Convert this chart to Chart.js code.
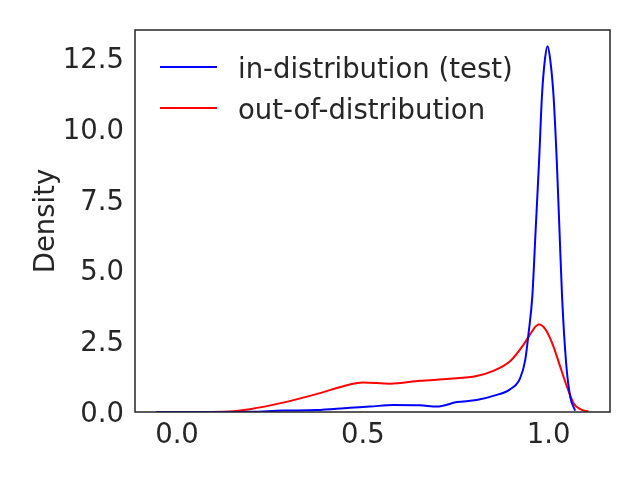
<!DOCTYPE html>
<html>
<head>
<meta charset="utf-8">
<script src="https://cdn.jsdelivr.net/npm/chart.js@4/dist/chart.umd.min.js"></script>
<style>
  html, body { margin: 0; padding: 0; background: #fff; }
  #wrap { width: 640px; height: 480px; }
</style>
</head>
<body>
<div id="wrap"><canvas id="kde" width="640" height="480"></canvas></div>
<script>
// density curves
var xTest = [-0.056, 0.10, 0.20, 0.285, 0.375, 0.465, 0.519, 0.582, 0.654, 0.699, 0.753, 0.806, 0.851, 0.896, 0.923, 0.937, 0.946, 0.956, 0.965, 0.974, 0.982, 0.990, 0.997, 1.004, 1.013, 1.022, 1.029, 1.036, 1.047, 1.058, 1.071]
var yTest = [0, 0.0, 0.01, 0.05, 0.07, 0.15, 0.19, 0.25, 0.24, 0.19, 0.35, 0.42, 0.57, 0.80, 1.19, 1.84, 2.79, 4.08, 6.44, 8.80, 11.17, 12.45, 12.91, 12.45, 11.17, 8.80, 6.44, 4.08, 1.72, 0.54, 0.05]

var xOod = [-0.056, 0.05, 0.14, 0.196, 0.285, 0.375, 0.465, 0.50, 0.573, 0.654, 0.734, 0.806, 0.851, 0.896, 0.932, 0.955, 0.965, 0.974, 0.985, 0.995, 1.013, 1.031, 1.049, 1.067, 1.085, 1.107]
var yOod = [0, 0.003, 0.02, 0.10, 0.33, 0.63, 0.97, 1.04, 1.00, 1.10, 1.17, 1.27, 1.45, 1.79, 2.37, 2.84, 3.02, 3.10, 3.02, 2.84, 2.31, 1.60, 0.90, 0.31, 0.10, 0.02]

var xTicks = [0.0, 0.5, 1.0]
var yTicks = [0.0, 2.5, 5.0, 7.5, 10.0, 12.5]

var textColor = '#262626'
var fontFam = '"DejaVu Sans", sans-serif'

function pts(xs, ys) {
    return xs.map(function (x, i) { return { x: x, y: ys[i] } })
}

// matplotlib style: full box around the axes
var frame = {
    id: 'frame',
    afterDraw: function (chart) {
        var a = chart.chartArea, ctx = chart.ctx
        ctx.save()
        ctx.strokeStyle = textColor
        ctx.lineWidth = 1.5
        ctx.strokeRect(a.left, a.top, a.right - a.left, a.bottom - a.top)
        ctx.restore()
    }
}

// legend sits inside the axes, top left, no box
var innerLegend = {
    id: 'innerLegend',
    afterDraw: function (chart) {
        var a = chart.chartArea, ctx = chart.ctx
        ctx.save()
        ctx.font = '27.5px ' + fontFam
        ctx.textBaseline = 'middle'
        chart.data.datasets.forEach(function (ds, i) {
            var y = a.top + 37 + i * 41
            ctx.strokeStyle = ds.borderColor
            ctx.lineWidth = 2
            ctx.beginPath()
            ctx.moveTo(a.left + 25, y)
            ctx.lineTo(a.left + 82, y)
            ctx.stroke()
            ctx.fillStyle = textColor
            ctx.fillText(ds.label, a.left + 103, y + 4)
        })
        ctx.restore()
    }
}

var ctx = document.getElementById('kde')
var chartData = {
    type: 'scatter',
    data: {
        datasets: [{
            label: 'in-distribution (test)',
            data: pts(xTest, yTest),
            borderColor: '#0000ff',
            backgroundColor: '#0000ff',
            borderWidth: 2,
            pointRadius: 0,
            showLine: true,
            fill: false,
            cubicInterpolationMode: 'monotone'
        },
        {
            label: 'out-of-distribution',
            data: pts(xOod, yOod),
            borderColor: '#ff0000',
            backgroundColor: '#ff0000',
            borderWidth: 2,
            pointRadius: 0,
            showLine: true,
            fill: false,
            cubicInterpolationMode: 'monotone'
        }]
    },
    options: {
        responsive: false,
        animation: false,
        layout: { padding: { top: 30, right: 30, left: 0, bottom: 0 } },
        plugins: {
            legend: { display: false },
            tooltip: { enabled: false }
        },
        scales: {
            x: {
                type: 'linear',
                min: -0.113,
                max: 1.165,
                grid: { display: false, drawTicks: false },
                border: { display: false },
                afterBuildTicks: function (s) { s.ticks = xTicks.map(function (v) { return { value: v } }) },
                afterFit: function (s) { s.height = 68 },
                ticks: {
                    padding: 7,
                    color: textColor,
                    font: { family: fontFam, size: 27.5 },
                    maxRotation: 0,
                    callback: function (v) { return v.toFixed(1) }
                }
            },
            y: {
                min: 0,
                max: 13.48,
                grid: { display: false, drawTicks: false },
                border: { display: false },
                afterBuildTicks: function (s) { s.ticks = yTicks.map(function (v) { return { value: v } }) },
                afterFit: function (s) { s.width = 135 },
                ticks: {
                    padding: 11,
                    labelOffset: 3,
                    color: textColor,
                    font: { family: fontFam, size: 27.5 },
                    callback: function (v) { return v.toFixed(1) }
                },
                title: {
                    display: true,
                    text: 'Density',
                    color: textColor,
                    font: { family: fontFam, size: 27.5 },
                    padding: { top: 30, bottom: 0 }
                }
            }
        }
    },
    plugins: [frame, innerLegend]
}
var myChart = new Chart(ctx, chartData)
</script>
</body>
</html>
